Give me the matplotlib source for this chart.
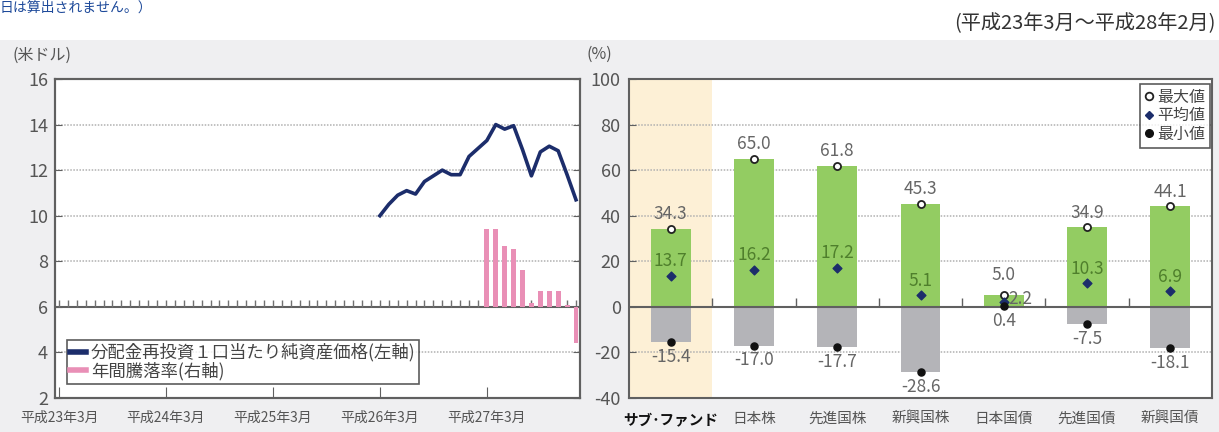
import matplotlib
matplotlib.use('Agg')
import matplotlib.pyplot as plt
import numpy as np
from matplotlib.patches import Rectangle
from matplotlib.lines import Line2D

plt.rcParams['font.family'] = ['Noto Sans CJK JP', 'DejaVu Sans']
plt.rcParams['axes.unicode_minus'] = False

# ---------------- data ----------------
# left chart: monthly axis from 平成23年3月
months = np.arange(0, 59)
nav_first_month = 36
nav_values = [10.0, 10.5, 10.9, 11.1, 10.95, 11.5, 11.75, 12.0, 11.8, 11.8,
              12.6, 12.95, 13.3, 14.0, 13.8, 13.95, 12.9, 11.75, 12.8, 13.05,
              12.85, 11.8, 10.7]
ret_first_month = 48
ret_values = [34.0, 34.0, 26.5, 25.5, 16.0, 1.5, 7.0, 7.0, 7.0, 0.8, -16.0]
left_xtick_months = [0, 12, 24, 36, 48]
left_xtick_labels = ['平成23年3月', '平成24年3月', '平成25年3月', '平成26年3月', '平成27年3月']
left_yticks = [2, 4, 6, 8, 10, 12, 14, 16]
legend_labels = ['分配金再投資１口当たり純資産価格(左軸)', '年間騰落率(右軸)']

# right chart
categories = ['サブ･ファンド', '日本株', '先進国株', '新興国株', '日本国債', '先進国債', '新興国債']
max_vals = [34.3, 65.0, 61.8, 45.3, 5.0, 34.9, 44.1]
mean_vals = [13.7, 16.2, 17.2, 5.1, 2.2, 10.3, 6.9]
min_vals = [-15.4, -17.0, -17.7, -28.6, 0.4, -7.5, -18.1]
right_yticks = [-40, -20, 0, 20, 40, 60, 80, 100]
marker_labels = ['最大値', '平均値', '最小値']

# ---------------- figure ----------------
W, H = 1219, 432
fig = plt.figure(figsize=(W / 100, H / 100), dpi=100)
fig.patch.set_facecolor('white')
fig.add_artist(Rectangle((0, 0), 1, 1 - 40 / H, transform=fig.transFigure,
                         facecolor='#efeff1', edgecolor='none', zorder=-10))

TXT = '#555555'
FRAME = '#606060'
GRID = '#b0b0b0'

# ---- left chart ----
ax = fig.add_axes([55 / W, 1 - 398 / H, 525 / W, 319 / H])
ax.set_facecolor('white')
ax.set_xlim(-0.45, 58.45)
ax.set_ylim(2, 16)
for s in ax.spines.values():
    s.set_color(FRAME)
    s.set_linewidth(1.5)
ax.set_yticks(left_yticks)
ax.set_yticklabels([str(v) for v in left_yticks], fontsize=13, color=TXT)
ax.tick_params(axis='y', direction='in', length=5, color=FRAME, pad=5)
ax.set_xticks(left_xtick_months)
ax.set_xticklabels(left_xtick_labels, fontsize=10, color=TXT)
ax.tick_params(axis='x', direction='in', length=8, color=FRAME, pad=9)
for y in left_yticks[1:-1]:
    if y != 6:
        ax.axhline(y, color=GRID, lw=1.1, ls=(0, (1, 1)), zorder=0)
ax.axhline(6, color=FRAME, lw=1.5, zorder=2)
ax.vlines(months, 6, 6.3, color='#707070', lw=1, zorder=2)
nav_months = months[nav_first_month:nav_first_month + len(nav_values)]
ax.plot(nav_months, nav_values, color='#1c2d6b', lw=2.6, zorder=3)

ax2 = ax.twinx()
ax2.set_ylim(-40, 100)
ax2.set_yticks(right_yticks)
ax2.set_yticklabels([])
ax2.tick_params(axis='y', direction='in', length=5, color=FRAME)
for s in ax2.spines.values():
    s.set_color(FRAME)
    s.set_linewidth(1.5)
ret_months = months[ret_first_month:ret_first_month + len(ret_values)]
ax2.bar(ret_months, ret_values, width=0.55, color='#e98fb6', zorder=2)

leg_handles = [Line2D([], [], color='#1c2d6b', lw=4),
               Line2D([], [], color='#e98fb6', lw=4)]
leg = ax2.legend(leg_handles, legend_labels, loc='lower left',
                 bbox_to_anchor=(0.022, 0.045), fontsize=12.5, frameon=True,
                 fancybox=False, borderpad=0.2, handlelength=0.9,
                 handletextpad=0.3, labelspacing=0.0, borderaxespad=0)
leg.get_frame().set_edgecolor('#333333')
leg.get_frame().set_linewidth(1.2)
for t in leg.get_texts():
    t.set_color('#444444')

# ---- right chart ----
axr = fig.add_axes([629 / W, 1 - 398 / H, 583 / W, 319 / H])
axr.set_facecolor('white')
axr.set_xlim(-0.5, len(categories) - 0.5)
axr.set_ylim(-40, 100)
for s in axr.spines.values():
    s.set_color(FRAME)
    s.set_linewidth(1.5)
axr.axvspan(-0.5, 0.5, color='#fdf0d6', zorder=0, lw=0)
for y in right_yticks[1:-1]:
    if y != 0:
        axr.axhline(y, color=GRID, lw=1.1, ls=(0, (1, 1)), zorder=1)
axr.set_yticks(right_yticks)
axr.set_yticklabels([str(v) for v in right_yticks], fontsize=13, color=TXT)
axr.tick_params(axis='y', direction='in', length=5, color=FRAME, pad=6)
x = np.arange(len(categories))
axr.set_xticks(x)
axr.set_xticklabels(categories, fontsize=10.5, color=TXT)
axr.get_xticklabels()[0].set_color('#111111')
axr.get_xticklabels()[0].set_fontweight('bold')
axr.tick_params(axis='x', length=0, pad=10)

axr.bar(x, min_vals, width=0.48, color='#b4b4b8', zorder=2)
axr.bar(x, max_vals, width=0.48, color='#93cc62', zorder=2)
axr.axhline(0, color=FRAME, lw=1.5, zorder=3)
axr.vlines(x[:-1] + 0.5, 0, 4, color=FRAME, lw=1, zorder=3)

axr.scatter(x, max_vals, s=26, facecolor='white', edgecolor='#222222', lw=1.3, zorder=5)
axr.scatter(x, mean_vals, s=20, marker='D', color='#1c2d6b', zorder=5)
axr.scatter(x, min_vals, s=26, color='#111111', zorder=5)

VAL = '#666666'
MEANC = '#4f7f2c'
for i in range(len(categories)):
    close = max_vals[i] - mean_vals[i] < 5
    axr.annotate(f'{max_vals[i]:.1f}', (x[i], max_vals[i]), xytext=(0, 8 if close else 4),
                 textcoords='offset points', ha='center', va='bottom',
                 fontsize=12.5, color=VAL, zorder=6)
    if close:
        axr.annotate(f'{mean_vals[i]:.1f}', (x[i], mean_vals[i]), xytext=(3, 2),
                     textcoords='offset points', ha='left', va='center',
                     fontsize=12.5, color=VAL, zorder=6)
    else:
        axr.annotate(f'{mean_vals[i]:.1f}', (x[i], mean_vals[i]), xytext=(0, 4),
                     textcoords='offset points', ha='center', va='bottom',
                     fontsize=12.5, color=MEANC, zorder=6)
    axr.annotate(f'{min_vals[i]:.1f}', (x[i], min(min_vals[i], 0)), xytext=(0, -4),
                 textcoords='offset points', ha='center', va='top',
                 fontsize=12.5, color=VAL, zorder=6)

mk_handles = [Line2D([], [], ls='none', marker='o', markersize=5.5, markerfacecolor='white',
                     markeredgecolor='#222222', markeredgewidth=1.3),
              Line2D([], [], ls='none', marker='D', markersize=4.5, color='#1c2d6b'),
              Line2D([], [], ls='none', marker='o', markersize=5.5, color='#111111')]
legr = axr.legend(mk_handles, marker_labels, loc='upper right', bbox_to_anchor=(0.997, 0.985),
                  fontsize=11.5, frameon=True, fancybox=False, borderpad=0.3,
                  handlelength=0.6, handletextpad=0.2, labelspacing=0.1, borderaxespad=0)
legr.get_frame().set_edgecolor('#333333')
legr.get_frame().set_linewidth(1.2)
for t in legr.get_texts():
    t.set_color('#444444')

# ---- texts ----
fig.text(12 / W, 1 - 55 / H, '(米ドル)', fontsize=11.5, color=TXT, ha='left', va='center')
fig.text(587 / W, 1 - 54 / H, '(%)', fontsize=11.5, color=TXT, ha='left', va='center')
fig.text(1216 / W, 1 - 24 / H, '(平成23年3月～平成28年2月)', fontsize=14.5, color='#333333',
         ha='right', va='center')
fig.text(0 / W, 1 - 1 / H, '日は算出されません。）', fontsize=10, color='#1e4a9a',
         ha='left', va='top')

fig.savefig('out.png', dpi=100, facecolor=fig.get_facecolor())
